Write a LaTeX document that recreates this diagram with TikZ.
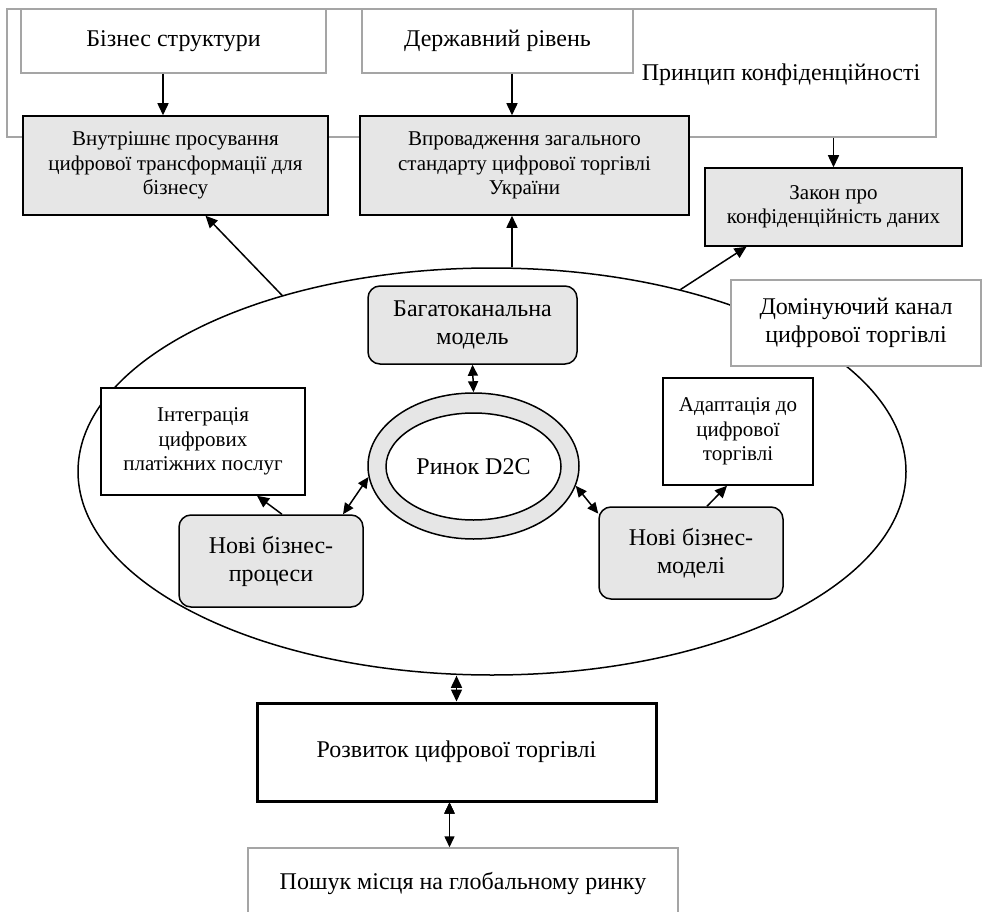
\documentclass[tikz,border=0pt]{standalone}
\usepackage{fontspec}
\setmainfont{Liberation Serif}
\usetikzlibrary{arrows.meta, shapes.geometric}
\definecolor{boxGrey}{RGB}{230,230,230}
\definecolor{edgeGrey}{RGB}{165,165,165}

\begin{document}
\begin{tikzpicture}
      [ x=1pt, y=-1pt
      , smallFont/.style={font=\fontsize{21}{24.5}\selectfont}
      , bigFont/.style={font=\fontsize{24}{28}\selectfont}
      , plainBox/.style={draw, line width=1.5pt, fill=white, align=center, inner sep=0pt}
      , greyBox/.style={draw, line width=1.5pt, fill=boxGrey, align=center, inner sep=0pt}
      , paleBox/.style={draw=edgeGrey, line width=1.5pt, fill=white, align=center, inner sep=0pt}
      , roundBox/.style={greyBox, rounded corners=12pt}
      , mainBox/.style={draw, line width=3pt, fill=white, inner sep=0pt}
      , oval/.style={ellipse, draw, line width=1.5pt, inner sep=0pt}
      , toBox/.style={-{Triangle[length=12pt, width=11pt]}, line width=1.5pt}
      , bothWays/.style={{Triangle[length=11pt, width=10pt]}-{Triangle[length=11pt, width=10pt]}, line width=1.5pt}
      ]
    \useasboundingbox (0,0) rectangle (982,912);

    \node[paleBox, minimum width=929, minimum height=128] (PF) at (471.5,73) {};
    \node[paleBox, bigFont, minimum width=305, minimum height=64] (BS) at (173.5,41) {Бізнес структури};
    \node[paleBox, bigFont, minimum width=271, minimum height=64] (DR) at (497.5,41) {Державний рівень};
    \node[bigFont] (PK) at (781,75) {Принцип конфіденційності};

    \node[greyBox, smallFont, minimum width=305, minimum height=99] (VP) at (175.5,165.5)
        {Внутрішнє просування\\цифрової трансформації для\\бізнесу};
    \node[greyBox, smallFont, minimum width=329, minimum height=99] (VZ) at (524.5,165.5)
        {Впровадження загального\\стандарту цифрової торгівлі\\України};
    \node[greyBox, smallFont, minimum width=257, minimum height=78] (ZK) at (833.5,207)
        {Закон про\\конфіденційність даних};

    \node[oval, minimum width=828, minimum height=407] (EL) at (492,471.5) {};
    \node[paleBox, bigFont, minimum width=250, minimum height=86] (DK) at (856,323)
        {Домінуючий канал\\цифрової торгівлі};
    \node[plainBox, smallFont, minimum width=204, minimum height=107] (IN) at (203,441.5)
        {Інтеграція\\цифрових\\платіжних послуг};
    \node[plainBox, smallFont, minimum width=150, minimum height=107] (AD) at (738,431.5)
        {Адаптація до\\цифрової\\торгівлі};
    \node[roundBox, bigFont, minimum width=209, minimum height=78] (BM) at (472.5,325)
        {Багатоканальна\\модель};
    \node[oval, fill=boxGrey, minimum width=211, minimum height=146] (RO) at (473.5,466) {};
    \node[oval, fill=white, bigFont, minimum width=175, minimum height=107] (RI) at (473.5,466.5)
        {Ринок D2C};
    \node[roundBox, bigFont, minimum width=184, minimum height=92] (NP) at (271,561)
        {Нові бізнес-\\процеси};
    \node[roundBox, bigFont, minimum width=184, minimum height=92] (NM) at (691,553)
        {Нові бізнес-\\моделі};

    \node[mainBox, bigFont, minimum width=399, minimum height=98] (RT) at (456.5,752)
        {Розвиток цифрової торгівлі};
    \node[paleBox, bigFont, minimum width=430, minimum height=70] (PG) at (463,883)
        {Пошук місця на глобальному ринку};

    \draw[toBox]
    ([xshift=-10.5pt]BS.south) edge ([xshift=-10.5pt]BS.south |- VP.north)
    ([xshift=14.5pt]DR.south) edge ([xshift=14.5pt]DR.south |- VZ.north)
    (ZK.north |- PF.south) edge (ZK.north)

    (EL.140) edge ([xshift=30pt]VP.south)
    ([xshift=20pt]EL.north) edge ([xshift=20pt]EL.north |- VZ.south)
    (EL.44) edge ([xshift=-87pt]ZK.south)

    ([xshift=11pt]NP.north) edge ([xshift=54pt]IN.south)
    ([xshift=16pt]NM.north) edge ([xshift=-11pt]AD.south)

    (RT.north |- EL.south) edge (RT.north);

    \draw[bothWays]
    (BM.south) edge (RO.north)
    (RO.186) edge (NP.33)
    (RO.349) edge (NM.157)
    ([xshift=-7pt]RT.south) edge ([xshift=-7pt]RT.south |- PG.north);
    \end{tikzpicture}
\end{document}
